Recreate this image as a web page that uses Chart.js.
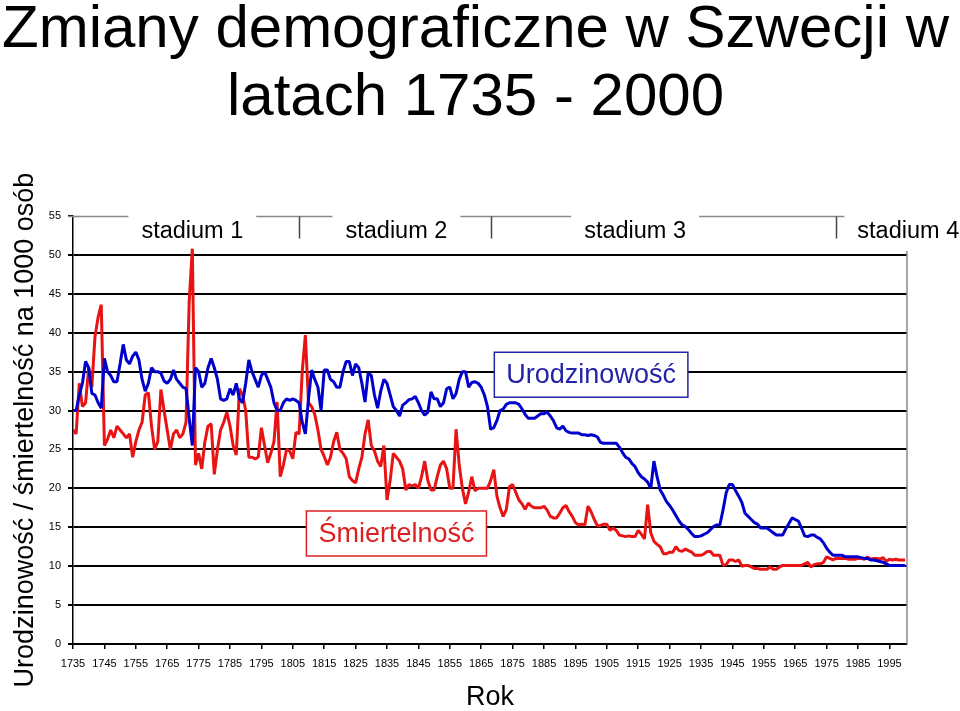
<!DOCTYPE html>
<html lang="pl">
<head>
<meta charset="utf-8">
<title>Zmiany demograficzne w Szwecji</title>
<script src="https://cdn.jsdelivr.net/npm/chart.js@4.4.1/dist/chart.umd.min.js"></script>
<style>
  html, body { margin: 0; padding: 0; background: #fff; }
  #wrap { width: 960px; height: 711px; }
</style>
</head>
<body>
<div id="wrap"><canvas id="demoChart" width="960" height="711"></canvas></div>
<script>
// Yearly values, one per year from firstYear to 2000
const firstYear = 1735;

// Urodzinowość (births per 1000)
const birthRate = [
    30, 30, 32, 33.5, 36.3, 35.5, 32.2, 32, 31, 30.3,            // 1735
    36.7, 35, 34.5, 33.7, 33.7, 36, 38.5, 36.5, 36, 37,          // 1745
    37.5, 36.5, 34, 32.5, 33.5, 35.5, 35, 35, 34.8, 33.8,        // 1755
    33.5, 34, 35.2, 34, 33.5, 33, 32.8, 29, 25.5, 35.5,          // 1765
    35, 33, 33.5, 35.5, 36.7, 35.5, 34, 31.5, 31.3, 31.5,        // 1775
    32.8, 32, 33.5, 31.5, 31, 33.5, 36.5, 35, 34, 33,            // 1785
    34.5, 35, 34, 33, 31, 30, 30, 31, 31.5, 31.3,                // 1795
    31.5, 31.3, 31, 28.5, 27, 31.5, 35.2, 34, 33, 30,            // 1805
    35.2, 35.2, 34, 33.7, 33, 33, 35, 36.3, 36.3, 34.5,          // 1815
    36, 35.5, 33.5, 31.1, 34.8, 34.5, 32, 30.3, 32.5, 34,        // 1825
    33.5, 32, 30.5, 30, 29.3, 30.7, 31, 31.4, 31.5, 31.8,        // 1835
    31, 30, 29.4, 29.8, 32.4, 31.5, 31.5, 30.5, 31, 32.8,        // 1845
    33, 31.5, 32.2, 34, 35, 35, 33, 33.6, 33.7, 33.5,            // 1855
    33, 32, 30.5, 27.6, 27.8, 28.7, 30, 30.2, 30.8, 31,          // 1865
    31, 31, 30.8, 30.2, 29.5, 29, 29, 29, 29.3, 29.6,            // 1875
    29.6, 29.8, 29.3, 28.7, 27.8, 27.6, 28, 27.4, 27.2, 27.1,    // 1885
    27.1, 27.1, 26.9, 26.9, 26.8, 26.9, 26.8, 26.6, 25.9, 25.8,  // 1895
    25.8, 25.8, 25.8, 25.8, 25.3, 24.6, 24, 23.8, 23.2, 22.8,    // 1905
    22, 21.5, 21.2, 20.8, 20, 23.5, 21.5, 19.8, 19.1, 18.3,      // 1915
    17.8, 17.2, 16.5, 15.8, 15.3, 15.1, 14.7, 14.2, 13.8, 13.8,  // 1925
    13.9, 14.1, 14.3, 14.7, 15.1, 15.3, 15.3, 17.2, 19.4, 20.5,  // 1935
    20.5, 19.7, 19, 18.2, 16.8, 16.4, 16, 15.6, 15.4, 14.9,      // 1945
    14.9, 14.9, 14.6, 14.3, 14, 14, 14, 14.8, 15.5, 16.2,        // 1955
    16, 15.8, 14.9, 13.9, 13.8, 14, 14, 13.7, 13.5, 13,          // 1965
    12.3, 11.8, 11.4, 11.4, 11.4, 11.4, 11.2, 11.2, 11.2, 11.2,  // 1975
    11.2, 11.1, 11, 11, 10.8, 10.8, 10.7, 10.6, 10.5, 10.3,      // 1985
    10.1, 10.1, 10.1, 10.1, 10.1, 10.1                           // 1995
];

// Śmiertelność (deaths per 1000)
const deathRate = [
    27.5, 27, 33.5, 30.5, 31, 35.5, 33, 39.5, 42, 43.6,          // 1735
    25.5, 26.3, 27.5, 26.5, 28, 27.5, 27, 26.5, 27, 24,          // 1745
    26, 27.5, 28.5, 32, 32.3, 28, 25, 26, 32.7, 30,              // 1755
    27.5, 25, 27, 27.5, 26.5, 27, 28.5, 44, 50.8, 23,            // 1765
    24.5, 22.5, 26, 28, 28.3, 21.8, 25, 27.5, 28.5, 29.8,        // 1775
    28, 25.5, 24.3, 32.8, 32, 30, 24, 24, 23.8, 24,              // 1785
    27.8, 25.5, 23.3, 24.5, 26, 31.1, 21.5, 23, 25, 24.8,        // 1795
    23.8, 27.2, 27, 35, 39.7, 31, 30.5, 29.5, 27.5, 25,          // 1805
    24.1, 23, 24, 26, 27.2, 25, 24.5, 23.8, 21.5, 21,            // 1815
    20.7, 22.5, 24, 27, 28.8, 25.5, 24.8, 23.5, 22.8, 25.5,      // 1825
    18.5, 21, 24.5, 24, 23.5, 22.5, 19.8, 20.5, 20.3, 20.5,      // 1835
    20, 21.5, 23.5, 21, 19.8, 19.8, 21.5, 23, 23.5, 22.5,        // 1845
    20, 20, 27.6, 23, 20, 18, 19.5, 21.5, 19.7, 20,              // 1855
    20, 20, 20, 21, 22.4, 19, 17.5, 16.4, 17.3, 20.2,            // 1865
    20.5, 19.5, 18.5, 18, 17.3, 18.1, 17.7, 17.5, 17.5, 17.5,    // 1875
    17.7, 17.2, 16.4, 16.2, 16.2, 16.8, 17.5, 17.8, 17, 16.4,    // 1885
    15.6, 15.3, 15.4, 15.3, 17.7, 17, 16, 15.2, 15.2, 15.4,      // 1895
    15.4, 14.6, 14.9, 14.6, 14, 13.9, 13.8, 13.9, 13.8, 13.8,    // 1905
    14.6, 14.1, 13.5, 17.9, 14.3, 13.2, 12.8, 12.5, 11.6, 11.6,  // 1915
    11.8, 11.8, 12.5, 12, 11.9, 12.2, 12, 11.8, 11.4, 11.4,      // 1925
    11.4, 11.6, 11.9, 11.9, 11.4, 11.4, 11.4, 10.1, 10.2, 10.8,  // 1935
    10.8, 10.6, 10.8, 10, 10.1, 10.1, 9.9, 9.7, 9.7, 9.6,        // 1945
    9.6, 9.6, 9.9, 9.6, 9.6, 9.9, 10.1, 10.1, 10.1, 10.1,        // 1955
    10.1, 10.1, 10.1, 10.3, 10.5, 9.9, 10.2, 10.3, 10.3, 10.5,   // 1965
    11.2, 11, 10.8, 11, 11, 11, 11, 10.9, 10.9, 10.9,            // 1975
    11, 11, 10.9, 11.2, 10.9, 11, 11, 10.9, 11.1, 10.6,          // 1985
    10.9, 10.8, 10.9, 10.8, 10.8, 10.8                           // 1995
];

// Axis ticks
const xTickYears = [1735, 1745, 1755, 1765, 1775, 1785, 1795, 1805, 1815, 1825, 1835, 1845, 1855,
    1865, 1875, 1885, 1895, 1905, 1915, 1925, 1935, 1945, 1955, 1965, 1975, 1985, 1995];
const yTickValues = [0, 5, 10, 15, 20, 25, 30, 35, 40, 45, 50, 55];

// Title lines
const titleLines = ['Zmiany demograficzne w Szwecji w', 'latach 1735 - 2000'];

// Stages of the demographic transition (label centre year, borders between stages)
const stageNames = ['stadium 1', 'stadium 2', 'stadium 3', 'stadium 4'];
const stageLabelYears = [1773, 1838, 1914, 2001];
const stageBorders = [1807, 1868, 1978];

// Boxed series labels
const boxLabels = ['Urodzinowość', 'Śmiertelność'];
const boxYears = [1900, 1838];
const boxValues = [34.6, 14.2];
const boxColors = ['#2424A8', '#DC2020'];

const FONT = '"Liberation Sans", Arial, sans-serif';
Chart.defaults.font.family = FONT;
Chart.defaults.color = '#000';

const years = birthRate.map((v, i) => firstYear + i);

// Title, stage brackets, boxed labels and the right edge of the plot
const annotationsPlugin = {
    id: 'annotations',
    afterDraw(chart) {
        const ctx = chart.ctx;
        const xs = chart.scales.x;
        const ys = chart.scales.y;
        const area = chart.chartArea;
        ctx.save();

        // title (centred on the page, not on the plot)
        ctx.font = '60px ' + FONT;
        ctx.fillStyle = '#000';
        ctx.textAlign = 'center';
        ctx.textBaseline = 'middle';
        titleLines.forEach((line, i) => {
            ctx.fillText(line, 475.5, 30 + i * 68);
        });

        // right border
        ctx.strokeStyle = '#8a8a8a';
        ctx.lineWidth = 1.5;
        ctx.beginPath();
        ctx.moveTo(area.right, ys.getPixelForValue(50) - 4);
        ctx.lineTo(area.right, area.bottom);
        ctx.stroke();

        // stage line with labels
        const topY = Math.round(ys.getPixelForValue(55)) + 0.5;
        ctx.font = '23.5px ' + FONT;
        ctx.textBaseline = 'alphabetic';
        let lineStart = area.left - 5;
        stageNames.forEach((name, i) => {
            const cx = xs.getPixelForValue(stageLabelYears[i]);
            const w = ctx.measureText(name).width;
            ctx.beginPath();
            ctx.moveTo(lineStart, topY);
            ctx.lineTo(cx - w / 2 - 13, topY);
            ctx.stroke();
            ctx.fillText(name, cx, topY + 21);
            lineStart = cx + w / 2 + 13;
        });
        ctx.strokeStyle = '#444';
        stageBorders.forEach(year => {
            const bx = Math.round(xs.getPixelForValue(year)) + 0.5;
            ctx.beginPath();
            ctx.moveTo(bx, topY);
            ctx.lineTo(bx, topY + 22);
            ctx.stroke();
        });

        // boxed labels
        ctx.font = '27px ' + FONT;
        ctx.textBaseline = 'middle';
        boxLabels.forEach((text, i) => {
            const cx = xs.getPixelForValue(boxYears[i]);
            const cy = ys.getPixelForValue(boxValues[i]);
            const w = ctx.measureText(text).width + 24;
            const h = 45;
            ctx.fillStyle = '#fff';
            ctx.fillRect(cx - w / 2, cy - h / 2, w, h);
            ctx.strokeStyle = boxColors[i];
            ctx.lineWidth = 1.5;
            ctx.strokeRect(cx - w / 2, cy - h / 2, w, h);
            ctx.fillStyle = boxColors[i];
            ctx.fillText(text, cx, cy + 1);
        });
        ctx.restore();
    }
};

const ctx = document.getElementById('demoChart').getContext('2d');
const demoChart = new Chart(ctx, {
    type: 'line',
    data: {
        datasets: [
            {
                label: 'Urodzinowość',
                data: birthRate.map((v, i) => ({ x: years[i], y: v })),
                borderColor: '#0000CC',
                borderWidth: 3,
                pointRadius: 0,
                tension: 0,
                borderJoinStyle: 'bevel'
            },
            {
                label: 'Śmiertelność',
                data: deathRate.map((v, i) => ({ x: years[i], y: v })),
                borderColor: '#E81414',
                borderWidth: 3,
                pointRadius: 0,
                tension: 0,
                borderJoinStyle: 'bevel'
            }
        ]
    },
    options: {
        responsive: false,
        animation: false,
        layout: {
            padding: { left: 0, top: 216, right: 53, bottom: 0 }
        },
        plugins: {
            legend: { display: false },
            tooltip: { enabled: false },
            title: { display: false }
        },
        scales: {
            x: {
                type: 'linear',
                min: 1735,
                max: 2000.6,
                afterBuildTicks: scale => {
                    scale.ticks = xTickYears.map(v => ({ value: v }));
                },
                afterFit: scale => {
                    scale.height = 67;
                },
                ticks: {
                    autoSkip: false,
                    maxRotation: 0,
                    padding: 8,
                    font: { size: 11 },
                    color: '#000',
                    callback: value => String(value)
                },
                grid: {
                    drawOnChartArea: false,
                    tickLength: 5,
                    color: '#000',
                    lineWidth: 1.5
                },
                border: { color: '#000', width: 1.5 },
                title: {
                    display: true,
                    text: 'Rok',
                    color: '#000',
                    font: { size: 27, lineHeight: 1 },
                    padding: { top: 0, bottom: 0 }
                }
            },
            y: {
                type: 'linear',
                min: 0,
                max: 55,
                afterBuildTicks: scale => {
                    scale.ticks = yTickValues.map(v => ({ value: v }));
                },
                afterFit: scale => {
                    scale.width = 73;
                },
                ticks: {
                    padding: 7,
                    font: { size: 11 },
                    color: '#000',
                    callback: value => String(value)
                },
                grid: {
                    color: c => (c.tick && c.tick.value === 55) ? 'rgba(0,0,0,0)' : '#000',
                    tickColor: '#000',
                    lineWidth: 2,
                    tickLength: 5
                },
                border: { color: '#000', width: 1.5 },
                title: {
                    display: true,
                    text: 'Urodzinowość / śmiertelność na 1000 osób',
                    color: '#000',
                    font: { size: 27, lineHeight: 1 },
                    padding: { top: 12 }
                }
            }
        }
    },
    plugins: [annotationsPlugin]
});
</script>
</body>
</html>
